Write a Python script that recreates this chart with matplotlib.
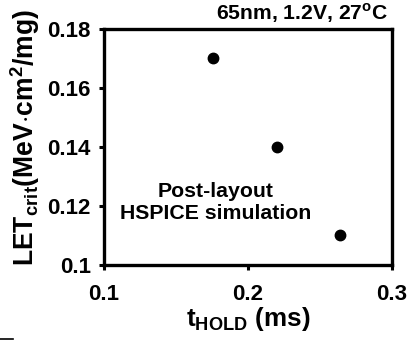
import matplotlib
matplotlib.use("Agg")
import matplotlib.pyplot as plt
from matplotlib.lines import Line2D

plt.rcParams["font.family"] = ["Liberation Sans", "DejaVu Sans"]
plt.rcParams["font.weight"] = "bold"
plt.rcParams["mathtext.fontset"] = "custom"
plt.rcParams["mathtext.rm"] = "Liberation Sans"
plt.rcParams["mathtext.bf"] = "Liberation Sans:bold"

# data
t_hold = [0.176, 0.220, 0.264]
let_crit = [0.17, 0.14, 0.11]

x_ticks = [0.1, 0.2, 0.3]
x_labels = ["0.1", "0.2", "0.3"]
y_ticks = [0.1, 0.12, 0.14, 0.16, 0.18]
y_labels = ["0.1", "0.12", "0.14", "0.16", "0.18"]

fig = plt.figure(figsize=(4.12, 3.41), dpi=100)
ax = fig.add_axes([0.252, 0.223, 0.699, 0.692])

ax.plot(t_hold, let_crit, "o", color="black", markersize=7.5)

ax.set_xlim(0.1, 0.3)
ax.set_ylim(0.1, 0.18)
ax.set_xticks(x_ticks)
ax.set_xticklabels(x_labels)
ax.set_yticks(y_ticks)
ax.set_yticklabels(y_labels)
ax.tick_params(direction="out", length=3.5, width=2.2, labelsize=16)
ax.tick_params(axis="y", pad=6)
ax.tick_params(axis="x", pad=10)
for lbl in ax.get_xticklabels() + ax.get_yticklabels():
    lbl.set_fontweight("bold")
for sp in ax.spines.values():
    sp.set_linewidth(2.4)

ax.set_xlabel(r"t$_{\mathrm{HOLD}}$ (ms)", fontsize=18.8, fontweight="bold", labelpad=0)
ax.set_ylabel(r"LET$_{\mathrm{crit}}$(MeV$\cdot$cm$^{\mathbf{2}}$/mg)",
              fontsize=19.1, fontweight="bold")
ax.yaxis.set_label_coords(-0.216, 0.538)

ax.text(0.1775, 0.1212, "Post-layout\nHSPICE simulation", ha="center", va="center",
        fontsize=15.3, fontweight="bold", linespacing=1.25)
fig.text(0.943, 0.962, r"65nm, 1.2V, 27$^{\mathbf{o}}$C", ha="right", va="center",
         fontsize=15.2, fontweight="bold")

# stray mark at the bottom-left corner of the original image
fig.add_artist(Line2D([0.0, 0.032], [0.007, 0.007], color="black", lw=1.2,
                      transform=fig.transFigure))

fig.savefig("out.png", dpi=100)
